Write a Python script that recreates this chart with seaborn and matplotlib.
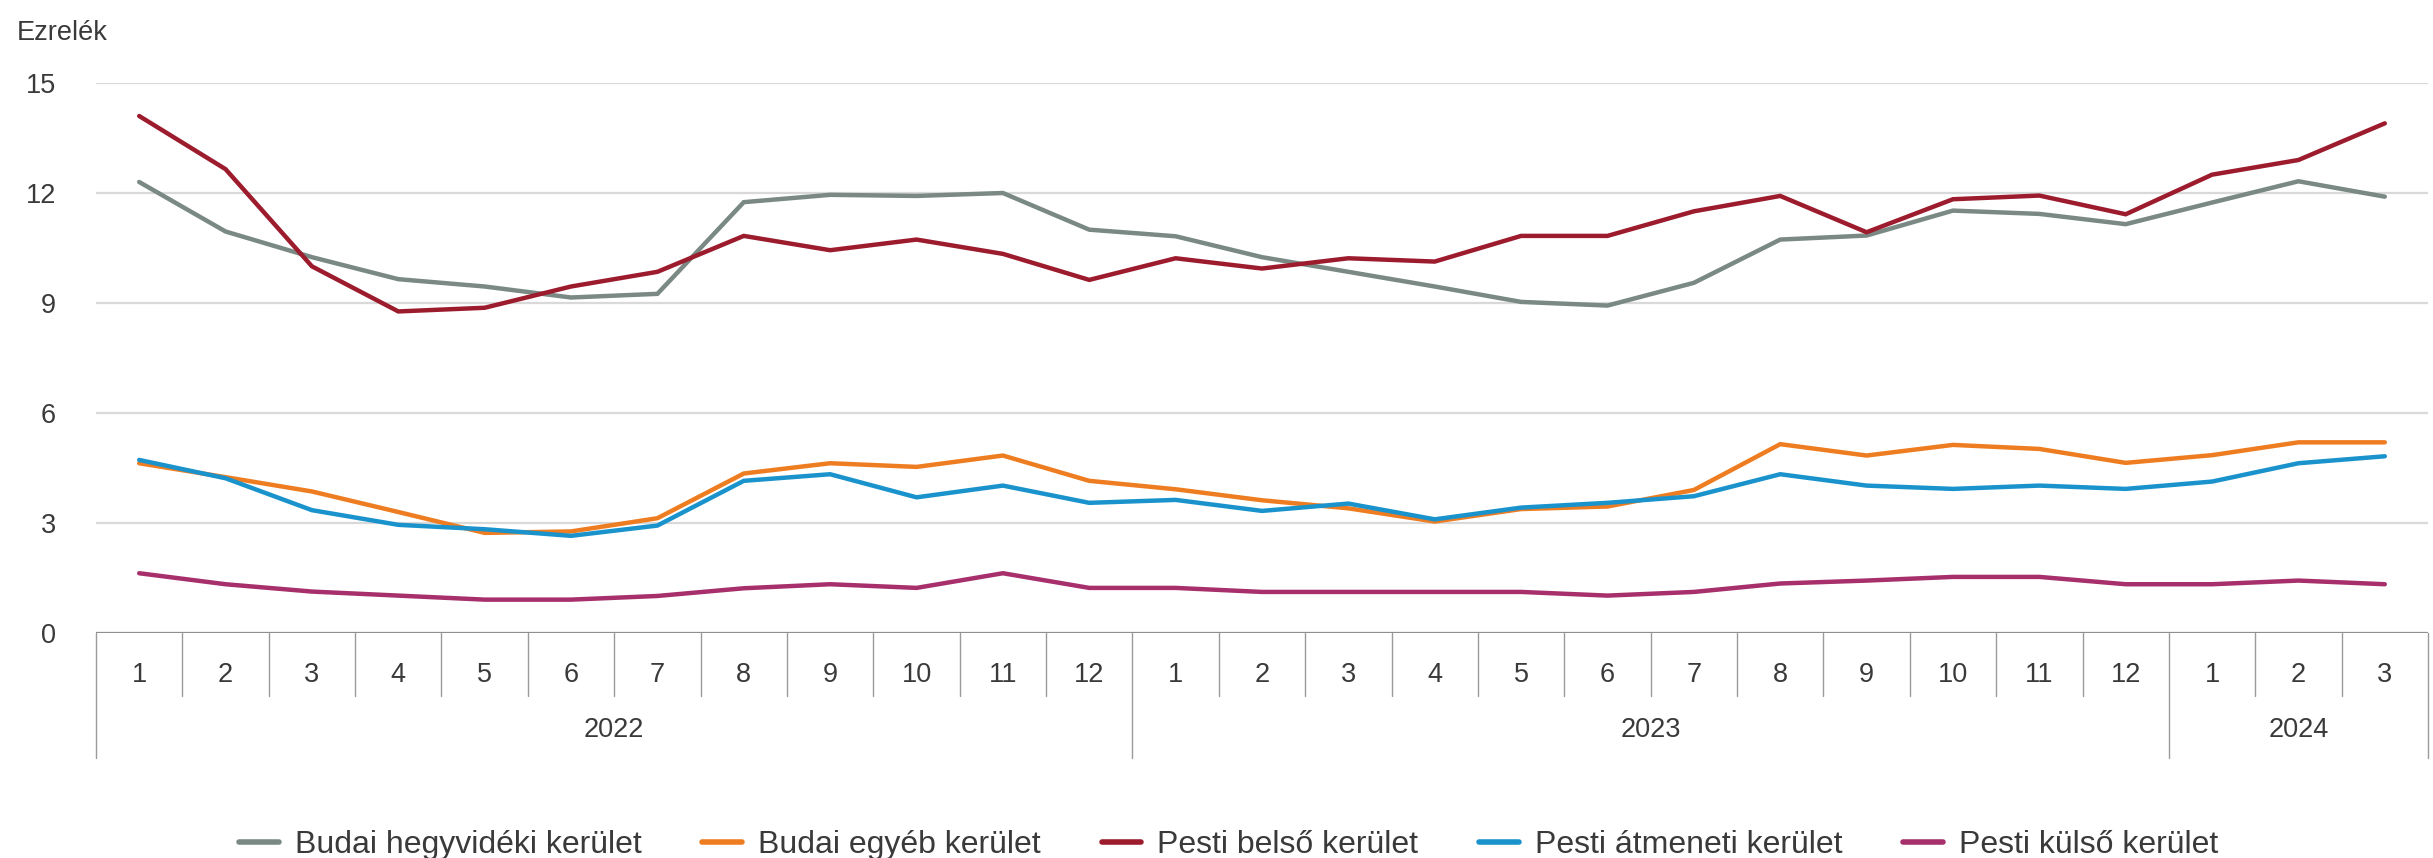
import numpy as np
import pandas as pd
import matplotlib
matplotlib.use("Agg")
import matplotlib.pyplot as plt
import matplotlib.transforms as mtransforms
import seaborn as sns

# Monthly values, Jan 2022 - Mar 2024 (per mille)
months = [1, 2, 3, 4, 5, 6, 7, 8, 9, 10, 11, 12,
          1, 2, 3, 4, 5, 6, 7, 8, 9, 10, 11, 12,
          1, 2, 3]
years = ["2022", "2023", "2024"]
months_per_year = [12, 12, 3]

budai_hegyvideki = [12.3, 10.95, 10.25, 9.65, 9.45, 9.15, 9.25, 11.75, 11.95, 11.92, 12.0, 11.0,
                    10.82, 10.25, 9.85, 9.45, 9.03, 8.93, 9.55, 10.73, 10.84, 11.52, 11.43, 11.15,
                    11.74, 12.32, 11.9]
budai_egyeb = [4.63, 4.25, 3.86, 3.3, 2.73, 2.77, 3.13, 4.35, 4.63, 4.53, 4.84, 4.15,
               3.92, 3.62, 3.4, 3.04, 3.38, 3.45, 3.9, 5.15, 4.84, 5.13, 5.02, 4.64,
               4.85, 5.2, 5.2]
pesti_belso = [14.1, 12.65, 10.0, 8.77, 8.87, 9.45, 9.85, 10.83, 10.44, 10.73, 10.34, 9.63,
               10.22, 9.94, 10.22, 10.13, 10.83, 10.83, 11.5, 11.92, 10.93, 11.83, 11.93, 11.42,
               12.5, 12.9, 13.9]
pesti_atmeneti = [4.72, 4.22, 3.35, 2.95, 2.83, 2.65, 2.93, 4.15, 4.33, 3.7, 4.02, 3.55,
                  3.63, 3.33, 3.53, 3.1, 3.42, 3.55, 3.73, 4.33, 4.02, 3.93, 4.02, 3.93,
                  4.13, 4.63, 4.82]
pesti_kulso = [1.63, 1.33, 1.13, 1.02, 0.91, 0.91, 1.01, 1.22, 1.33, 1.23, 1.63, 1.23,
               1.23, 1.12, 1.12, 1.12, 1.12, 1.02, 1.12, 1.35, 1.43, 1.53, 1.53, 1.33,
               1.33, 1.43, 1.33]

series_names = ["Budai hegyvidéki kerület", "Budai egyéb kerület", "Pesti belső kerület",
                "Pesti átmeneti kerület", "Pesti külső kerület"]
series_values = [budai_hegyvideki, budai_egyeb, pesti_belso, pesti_atmeneti, pesti_kulso]
colors = ["#7a8983", "#ee7d22", "#9c1c2e", "#1a93cc", "#a62f6c"]

rows = []
for name, vals in zip(series_names, series_values):
    for i, v in enumerate(vals):
        rows.append({"idx": i, "value": v, "series": name})
df = pd.DataFrame(rows)

sns.set_theme(style="white")
plt.rcParams["font.family"] = ["Liberation Sans", "DejaVu Sans"]
text_color = "#3a3a3a"

DPI = 100
fig = plt.figure(figsize=(24.33, 8.58), dpi=DPI)
ax = fig.add_axes([96 / 2433, 1 - 633 / 858, (2428 - 96) / 2433, (633 - 83) / 858])

sns.lineplot(data=df, x="idx", y="value", hue="series", hue_order=series_names,
             palette=colors, linewidth=3.2, ax=ax, legend=False, sort=False)
for ln in ax.get_lines():
    ln.set_clip_on(False)
    ln.set_solid_joinstyle("miter")

n = len(months)
ax.set_xlim(-0.5, n - 0.5)
ax.set_ylim(0, 15)
ax.set_yticks([0, 3, 6, 9, 12, 15])
ax.set_yticklabels(["0", "3", "6", "9", "12", "15"], fontsize=19.5, color=text_color)
# pad given in points: 40 px gap between labels and plot area
ax.tick_params(axis="y", length=0, pad=40 * 72 / DPI)
ax.set_xticks([])
ax.set_xlabel("")
ax.set_ylabel("")
for s in ax.spines.values():
    s.set_visible(False)

# horizontal gridlines
for yv in [3, 6, 9, 12, 15]:
    ax.axhline(yv, color="#d9d9d9", linewidth=1.6, zorder=0)
ax.axhline(0, color="#8f8f8f", linewidth=1.6, zorder=1)

# category axis: month labels, separators and year groups
trans = mtransforms.blended_transform_factory(ax.transData, ax.transAxes)
ax_h = 633 - 83
month_bottom = -63 / ax_h
year_bottom = -125 / ax_h
for i, m in enumerate(months):
    ax.text(i, -42 / ax_h, str(m), transform=trans, ha="center", va="center",
            fontsize=19.5, color=text_color)

year_edges = np.cumsum([0] + months_per_year)
for b in range(n + 1):
    bottom = year_bottom if b in year_edges else month_bottom
    ax.plot([b - 0.5, b - 0.5], [0, bottom], transform=trans, color="#9a9a9a",
            linewidth=1.0, clip_on=False)

for y_lbl, start, cnt in zip(years, year_edges[:-1], months_per_year):
    ax.text(start + (cnt - 1) / 2, -97 / ax_h, y_lbl, transform=trans, ha="center",
            va="center", fontsize=19.5, color=text_color)

fig.text(17 / 2433, 1 - 33 / 858, "Ezrelék", ha="left", va="center",
         fontsize=19.5, color=text_color)

handles = [plt.Line2D([], [], color=c, linewidth=4) for c in colors]
leg = fig.legend(handles, series_names, loc="center", ncol=5,
                 bbox_to_anchor=(0.505, 1 - 845 / 858), frameon=False,
                 fontsize=23, handlelength=1.25, handletextpad=0.5,
                 columnspacing=1.9, borderaxespad=0, borderpad=0)
for t in leg.get_texts():
    t.set_color(text_color)

fig.savefig("out.png", dpi=DPI, facecolor="white")
